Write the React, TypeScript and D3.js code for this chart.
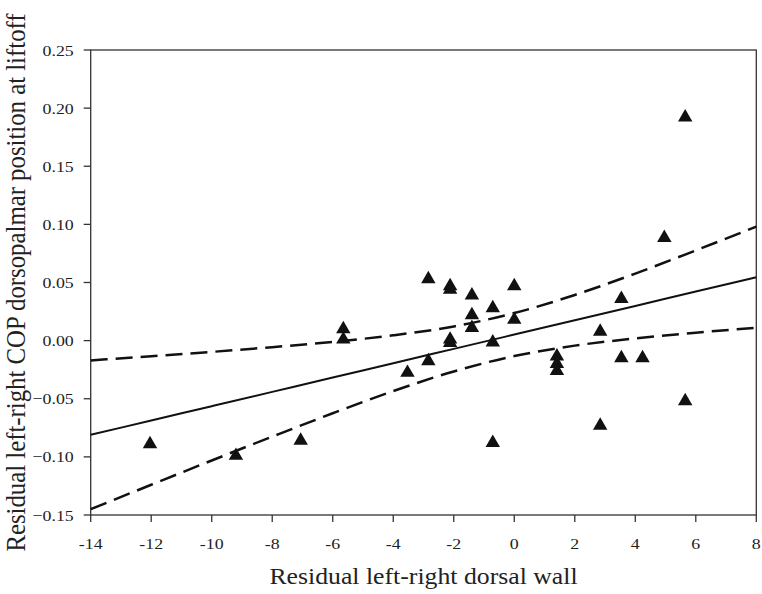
import React from "react";
import * as d3 from "d3";

const xValues = [-12.04, -9.2, -7.06, -5.65, -5.65, -3.53, -2.84, -2.84, -2.12, -2.12, -2.12, -2.12, -1.4, -1.4, -1.4, -0.71, -0.71, -0.71, 0, 0, 1.41, 1.41, 1.41, 2.84, 2.84, 3.54, 3.54, 4.24, 4.96, 5.65, 5.65];
const yValues = [-0.089, -0.099, -0.086, 0.01, 0.001, -0.0276, 0.053, -0.0175, 0.047, 0.044, 0.001, -0.002, 0.039, 0.022, 0.011, 0.028, -0.0015, -0.088, 0.047, 0.018, -0.0135, -0.02, -0.026, 0.0077, -0.073, 0.036, -0.015, -0.015, 0.0885, 0.192, -0.052];

const bandX = [-14, -12, -10, -8, -6, -4, -2, 0, 2, 4, 6, 8];
const fitY = [-0.081, -0.0687, -0.0564, -0.0441, -0.0318, -0.0194, -0.0071, 0.0052, 0.0175, 0.0298, 0.0422, 0.0545];
const upperY = [-0.017, -0.0134, -0.0097, -0.0056, -0.0011, 0.0046, 0.0122, 0.0237, 0.0393, 0.0577, 0.0776, 0.098];
const lowerY = [-0.145, -0.124, -0.1031, -0.0826, -0.0625, -0.0434, -0.0265, -0.0133, -0.0043, 0.0019, 0.0068, 0.011];

const xTicks = [-14, -12, -10, -8, -6, -4, -2, 0, 2, 4, 6, 8];
const yTicks = [-0.15, -0.1, -0.05, 0, 0.05, 0.1, 0.15, 0.2, 0.25];

const xTitle = "Residual left-right dorsal wall";
const yTitle = "Residual left-right COP dorsopalmar position at liftoff";

export default function App() {
  const W = 762, H = 594;
  const left = 90.7, right = 756.3, top = 50, bottom = 515;
  const x = d3.scaleLinear().domain([-14, 8]).range([left, right]);
  const y = d3.scaleLinear().domain([-0.15, 0.25]).range([bottom, top]);
  const line = d3.line<number>().x((_, i) => x(bandX[i])).y((d) => y(d)).curve(d3.curveMonotoneX);
  const tri = d3.symbol().type(d3.symbolTriangle).size(90)();
  const font = "Liberation Serif, Times New Roman, serif";
  const sx = 1.15;
  const fmtY = (v: number) => (Math.abs(v) < 1e-9 ? "0.00" : d3.format(".2f")(v));
  return (
    <svg width={W} height={H} style={{ position: "absolute", left: 0, top: 0, background: "#fff" }}>
      <rect x={0} y={0} width={W} height={H} fill="#fff" />
      <rect x={left} y={top} width={right - left} height={bottom - top} fill="none" stroke="#333" strokeWidth={1.3} />
      {xTicks.map((t) => (
        <g key={"xt" + t}>
          <line x1={x(t)} x2={x(t)} y1={bottom} y2={bottom + 7} stroke="#333" strokeWidth={1.3} />
          <text transform={`translate(${x(t)},${bottom + 34}) scale(${sx},1)`} textAnchor="middle" style={{ fontFamily: font, fontSize: 15.5 }} fill="#222">{t}</text>
        </g>
      ))}
      {yTicks.map((t) => (
        <g key={"yt" + t}>
          <line x1={left - 7} x2={left} y1={y(t)} y2={y(t)} stroke="#333" strokeWidth={1.3} />
          <text transform={`translate(${left - 17},${y(t) + 5.5}) scale(${sx},1)`} textAnchor="end" style={{ fontFamily: font, fontSize: 15.5 }} fill="#222">{fmtY(t)}</text>
        </g>
      ))}
      <path d={line(fitY) || ""} fill="none" stroke="#111" strokeWidth={2} />
      <path d={line(upperY) || ""} fill="none" stroke="#111" strokeWidth={2.5} strokeDasharray="17,8" />
      <path d={line(lowerY) || ""} fill="none" stroke="#111" strokeWidth={2.5} strokeDasharray="17,8" />
      {xValues.map((v, i) => (
        <path key={"p" + i} d={tri || ""} transform={`translate(${x(v)},${y(yValues[i])})`} fill="#111" />
      ))}
      <text transform={`translate(${(left + right) / 2},584) scale(1.12,1)`} textAnchor="middle" style={{ fontFamily: font, fontSize: 23 }} fill="#222">{xTitle}</text>
      <text transform={`translate(25,${(top + bottom) / 2}) rotate(-90) scale(1,1.1)`} textAnchor="middle" style={{ fontFamily: font, fontSize: 24.8 }} fill="#222">{yTitle}</text>
    </svg>
  );
}
